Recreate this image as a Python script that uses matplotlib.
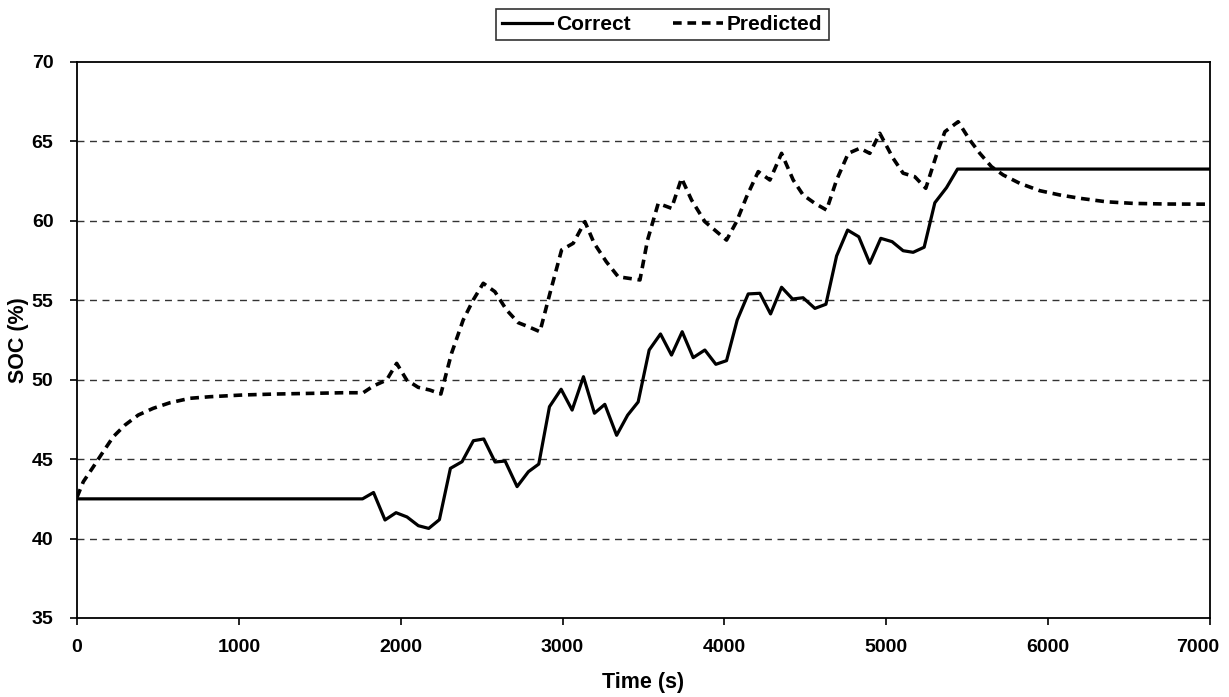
"""SOC over time: correct vs predicted."""

import matplotlib
matplotlib.use("Agg")
import matplotlib.pyplot as plt
from matplotlib.transforms import ScaledTranslation

# Correct SOC trace (time s, SOC %)
correct_t = [0, 1764, 1832, 1903, 1971, 2039, 2109, 2173, 2239, 2307, 2379, 2449, 2513,
             2583, 2645, 2719, 2789, 2853, 2919, 2991, 3059, 3129, 3197, 3261, 3334, 3402,
             3467, 3535, 3605, 3673, 3739, 3807, 3879, 3947, 4013, 4079, 4147, 4219, 4285,
             4353, 4421, 4486, 4559, 4627, 4693, 4761, 4830, 4898, 4966, 5036, 5104, 5166,
             5234, 5300, 5372, 5440, 7000]
correct_soc = [42.5, 42.5, 42.9, 41.17, 41.63, 41.36, 40.81, 40.64, 41.19, 44.42, 44.84,
               46.16, 46.27, 44.82, 44.88, 43.27, 44.21, 44.69, 48.30, 49.40, 48.09, 50.19,
               47.89, 48.45, 46.5, 47.77, 48.6, 51.87, 52.88, 51.55, 53.02, 51.39, 51.87,
               50.97, 51.2, 53.76, 55.40, 55.44, 54.14, 55.82, 55.08, 55.16, 54.49, 54.75,
               57.79, 59.42, 59.0, 57.33, 58.9, 58.69, 58.12, 58.02, 58.34, 61.14, 62.09,
               63.26, 63.26]

# Predicted SOC trace
pred_t = [0, 39, 101, 162, 224, 297, 379, 471, 574, 698, 822, 1027, 1233, 1439, 1645,
          1768, 1830, 1913, 1975, 2037, 2108, 2180, 2248, 2314, 2386, 2448, 2510, 2582,
          2654, 2726, 2788, 2860, 2922, 2994, 3066, 3138, 3195, 3270, 3344, 3478, 3525,
          3591, 3673, 3735, 3797, 3879, 4013, 4075, 4137, 4209, 4281, 4353, 4425, 4486,
          4559, 4631, 4693, 4765, 4837, 4898, 4960, 5042, 5104, 5176, 5244, 5310, 5362,
          5444, 5516, 5578, 5650, 5722, 5825, 5948, 6072, 6196, 6360, 6525, 6731, 7000]
pred_soc = [42.6, 43.58, 44.52, 45.47, 46.41, 47.15, 47.78, 48.2, 48.55, 48.83, 48.93,
            49.04, 49.1, 49.14, 49.18, 49.18, 49.6, 49.98, 51.03, 49.98, 49.52, 49.35,
            49.1, 51.66, 53.76, 55.02, 56.07, 55.54, 54.39, 53.59, 53.34, 53.02, 55.44,
            58.17, 58.59, 59.95, 58.59, 57.43, 56.48, 56.28, 58.79, 61.1, 60.79, 62.68,
            61.31, 59.95, 58.79, 59.95, 61.52, 63.1, 62.57, 64.25, 62.57, 61.63, 61.1,
            60.68, 62.57, 64.25, 64.57, 64.25, 65.51, 63.94, 63.0, 62.78, 62.05, 64.15,
            65.61, 66.24, 65.09, 64.25, 63.41, 62.89, 62.36, 61.9, 61.63, 61.42, 61.2,
            61.1, 61.06, 61.05]

x_ticks = [0, 1000, 2000, 3000, 4000, 5000, 6000, 7000]
y_ticks = [35, 40, 45, 50, 55, 60, 65, 70]

plt.rcParams["font.family"] = ["Liberation Sans", "DejaVu Sans"]
plt.rcParams["font.weight"] = "bold"

fig = plt.figure(figsize=(12.29, 6.97), dpi=100)
ax = fig.add_axes([77 / 1229, 1 - 618 / 697, (1210 - 77) / 1229, (618 - 62) / 697])

for y in y_ticks[1:-1]:
    ax.axhline(y, color="#333333", lw=1.0, dashes=(5, 4), zorder=1)

ax.plot(correct_t, correct_soc, color="black", lw=2.3, label="Correct", zorder=3)
ax.plot(pred_t, pred_soc, color="black", lw=2.6, dashes=(2.4, 1.6), label="Predicted", zorder=3)

ax.set_xlim(0, 7000)
ax.set_ylim(35, 70)
ax.set_xticks(x_ticks)
ax.set_yticks(y_ticks)
ax.tick_params(axis="both", direction="out", length=5, width=1.2, labelsize=14)
ax.tick_params(axis="y", pad=12)
ax.tick_params(axis="x", pad=10)
for lab in ax.get_xticklabels() + ax.get_yticklabels():
    lab.set_fontweight("bold")
# last x label sits a little left of its tick so it stays inside the figure
last = ax.get_xticklabels()[-1]
last.set_transform(last.get_transform() + ScaledTranslation(-12 / 100, 0, fig.dpi_scale_trans))
for spine in ax.spines.values():
    spine.set_linewidth(1.3)

ax.set_xlabel("Time (s)", fontsize=15.5, fontweight="bold")
ax.set_ylabel("SOC (%)", fontsize=15.5, fontweight="bold")
ax.xaxis.set_label_coords(0.5, -0.097)
ax.yaxis.set_label_coords(-0.042, 0.5)

leg = fig.legend(loc="center", bbox_to_anchor=(662.5 / 1229, 1 - 24.5 / 697), ncol=2,
                 fontsize=15, frameon=True, fancybox=False, handlelength=2.4,
                 columnspacing=2.0, handletextpad=0.2, borderpad=0.3)
leg.get_frame().set_edgecolor("black")
leg.get_frame().set_linewidth(1.2)
for text in leg.get_texts():
    text.set_fontweight("bold")

fig.savefig("out.png", dpi=100)
